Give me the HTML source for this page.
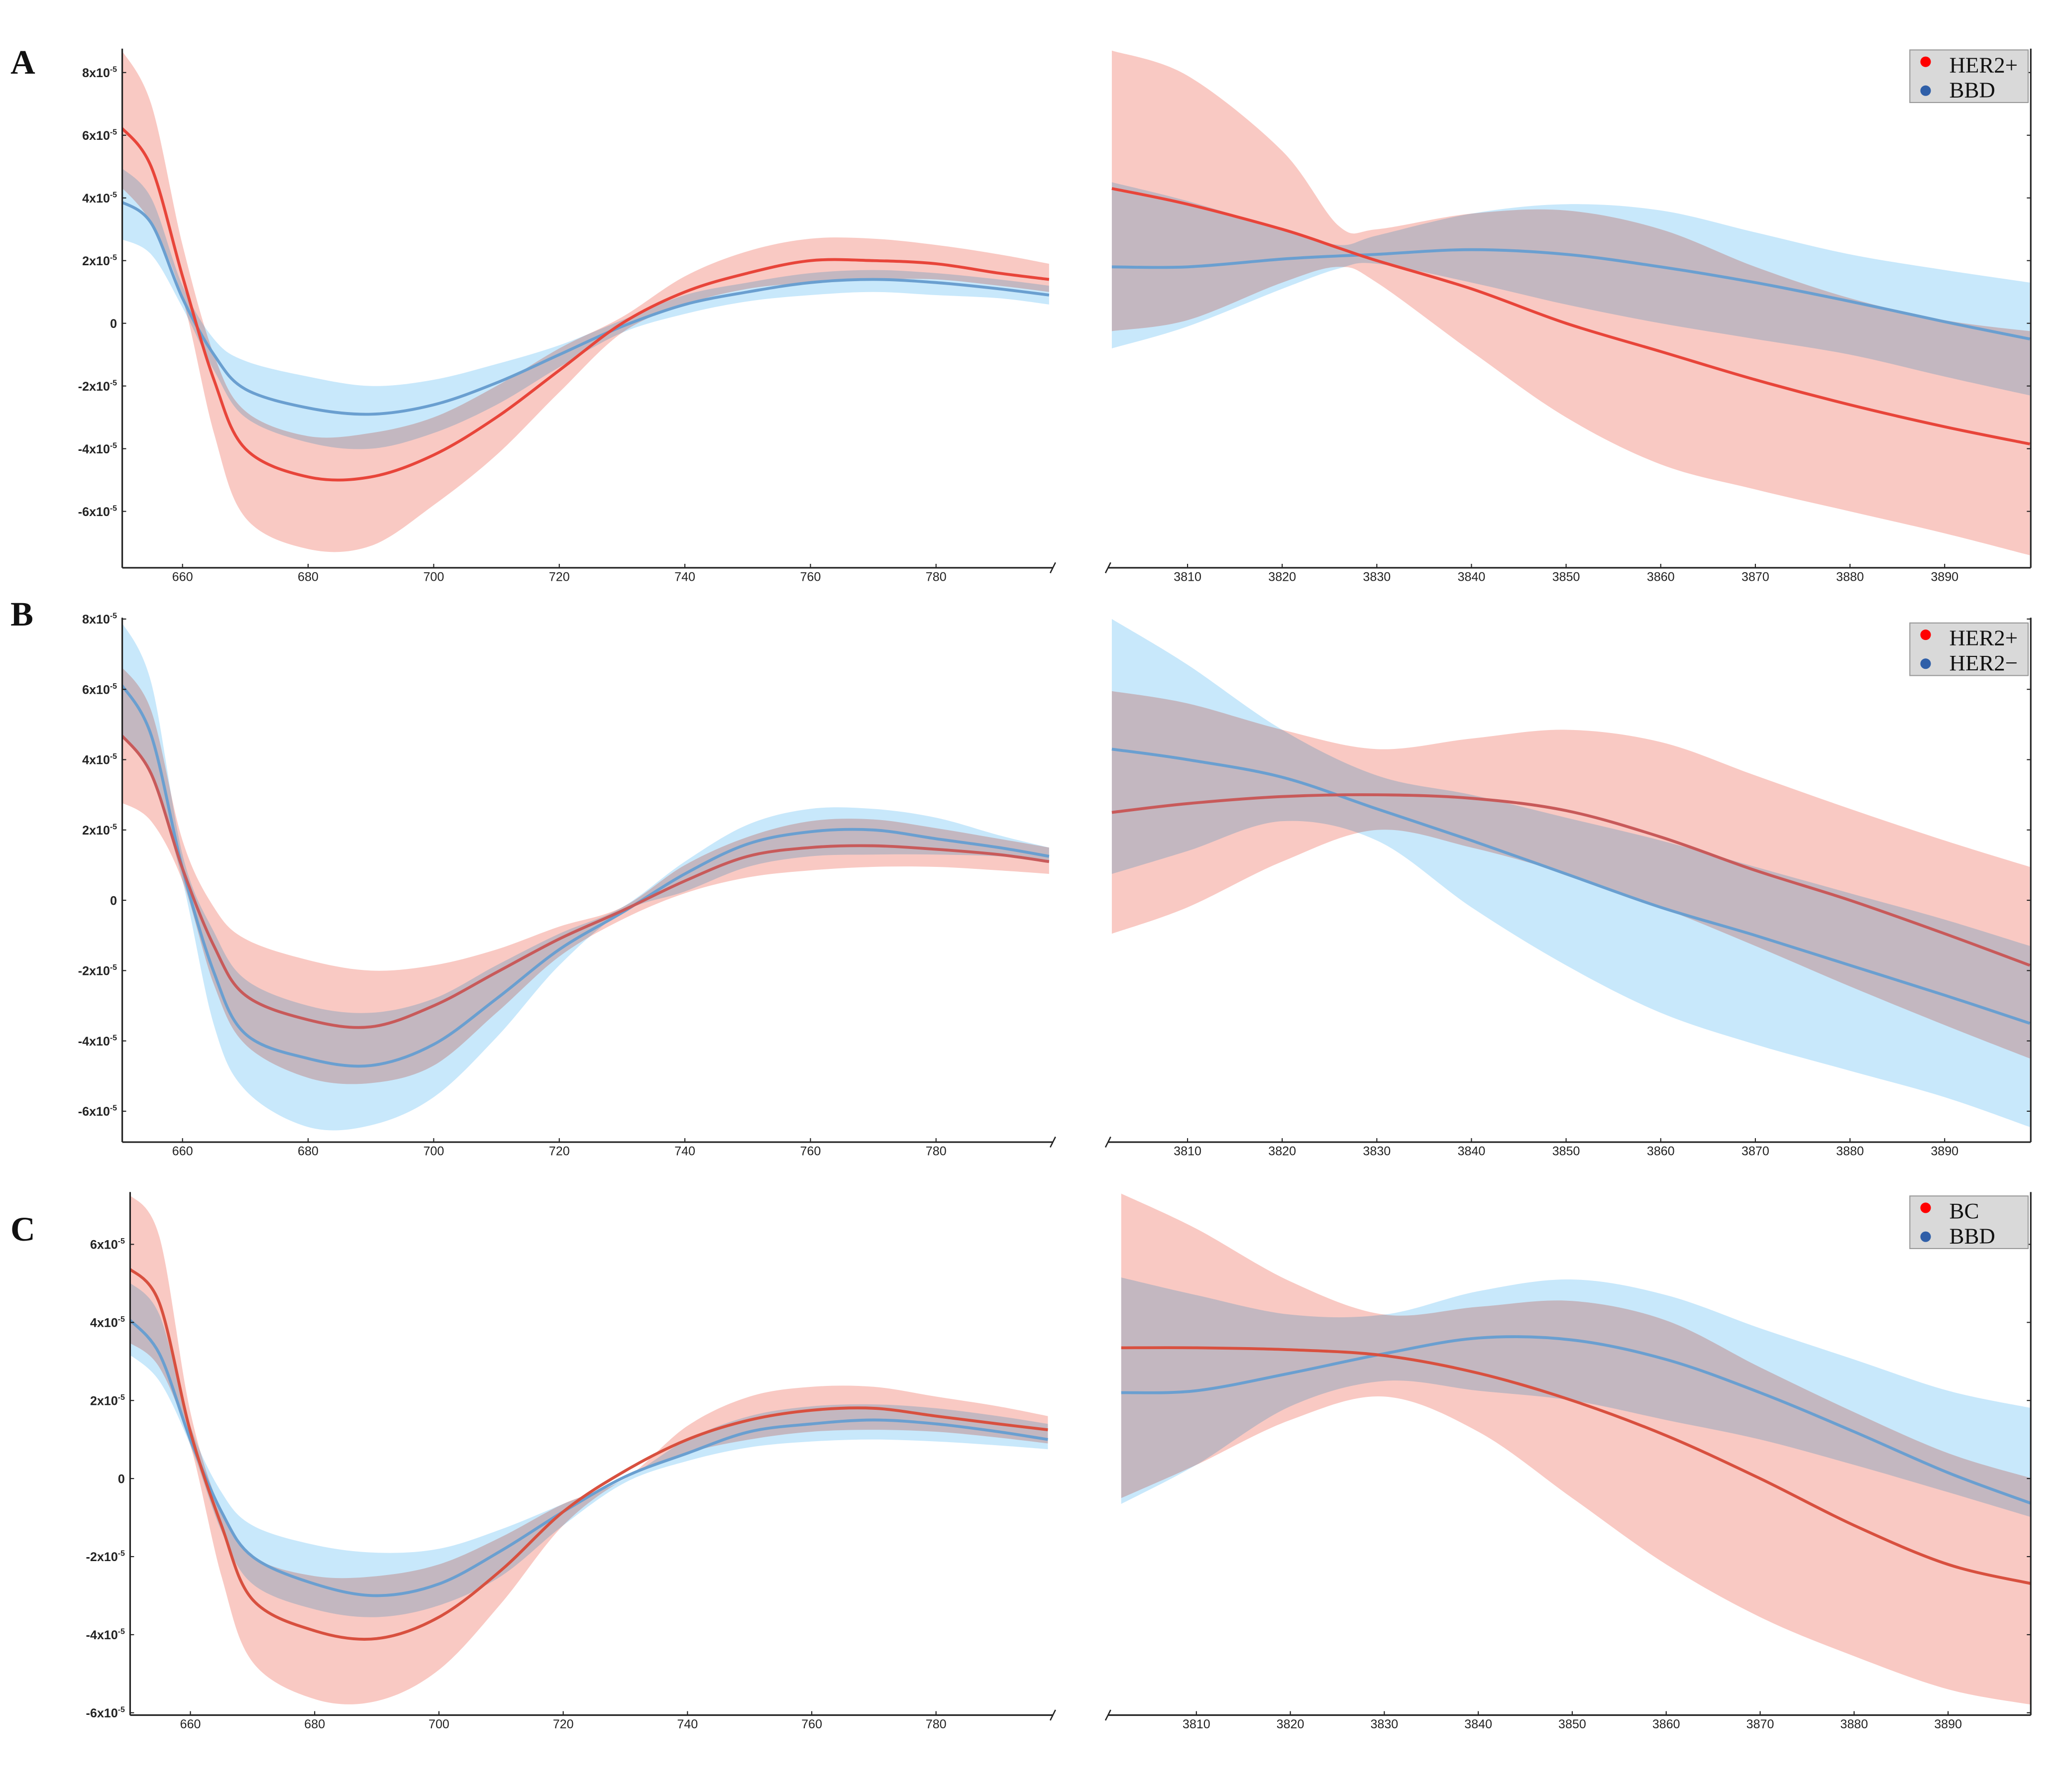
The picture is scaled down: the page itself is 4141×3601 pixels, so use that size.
<!DOCTYPE html>
<html><head><meta charset="utf-8"><style>
html,body{margin:0;padding:0;background:#fff;}
svg{display:block;}
</style></head><body>
<svg id="fig" width="4141" height="3601" viewBox="0 0 1568 1363.5" preserveAspectRatio="none" xmlns="http://www.w3.org/2000/svg" font-family="Liberation Sans, sans-serif">
<rect x="0" y="0" width="1568" height="1363.5" fill="#fff"/>
</svg>
<script>
// ---- data (units of 1e-5) ----
const leftX = [650,655,660,665,670,680,690,700,710,720,730,740,750,760,770,780,790,798];
const rightXA = [3802,3810,3820,3826,3830,3840,3850,3860,3870,3880,3890,3899];
const rightX = [3802,3810,3820,3830,3840,3850,3860,3870,3880,3890,3899];
const leftTicks = [660,680,700,720,740,760,780];
const rightTicks = [3810,3820,3830,3840,3850,3860,3870,3880,3890];
const yTicksAB = [-6,-4,-2,0,2,4,6,8];
const yTicksC = [-6,-4,-2,0,2,4,6];
const legendA = ["HER2+","BBD"];
const legendB = ["HER2+","HER2\u2212"];
const legendC = ["BC","BBD"];

// Panel A left
const A_L_redMean = [6.3,5.0,1.5,-1.8,-4.0,-4.9,-4.9,-4.2,-3.0,-1.5,0,1.0,1.6,2.0,2.0,1.9,1.6,1.4];
const A_L_redUp = [8.8,7.0,2.5,-1.0,-2.8,-3.6,-3.5,-3.0,-2.0,-0.8,0.2,1.5,2.3,2.7,2.7,2.5,2.2,1.9];
const A_L_redLo = [4.4,3.2,0.8,-3.5,-6.2,-7.2,-7.1,-5.8,-4.2,-2.2,-0.3,0.6,1.1,1.3,1.4,1.4,1.2,1.0];
const A_L_blueMean = [3.9,3.2,0.8,-1.0,-2.1,-2.7,-2.9,-2.6,-1.9,-1.0,-0.1,0.6,1.0,1.3,1.4,1.3,1.1,0.9];
const A_L_blueUp = [5.0,4.0,1.2,-0.5,-1.2,-1.7,-2.0,-1.8,-1.3,-0.7,0.1,0.9,1.3,1.6,1.7,1.6,1.4,1.2];
const A_L_blueLo = [2.7,2.2,0.5,-1.5,-3.0,-3.8,-4.0,-3.5,-2.6,-1.4,-0.3,0.3,0.7,0.9,1.0,0.9,0.8,0.6];
// Panel A right
const A_R_redMean = [4.3,3.8,3.0,2.4,2.0,1.1,0,-0.9,-1.8,-2.6,-3.3,-3.85];
const A_R_redUp = [8.7,7.9,5.5,3.1,3.0,3.5,3.6,3.0,1.8,0.8,0.1,-0.25];
const A_R_redLo = [-0.25,0.1,1.3,1.8,1.3,-0.9,-3.0,-4.5,-5.3,-6.0,-6.7,-7.4];
const A_R_blueMean = [1.8,1.8,2.05,2.15,2.2,2.35,2.2,1.8,1.3,0.7,0.05,-0.5];
const A_R_blueUp = [4.5,3.9,3.0,2.5,2.8,3.5,3.8,3.6,2.9,2.2,1.7,1.3];
const A_R_blueLo = [-0.8,-0.1,1.1,1.75,1.9,1.3,0.6,0,-0.5,-1.0,-1.7,-2.3];
// Panel B left
const B_L_redMean = [4.75,3.6,0.9,-1.3,-2.7,-3.4,-3.6,-3.0,-2.05,-1.1,-0.3,0.55,1.25,1.5,1.55,1.45,1.3,1.1];
const B_L_redUp = [6.7,5.4,1.7,-0.2,-1.1,-1.7,-2.0,-1.85,-1.4,-0.75,-0.2,1.0,1.8,2.25,2.3,2.05,1.75,1.5];
const B_L_redLo = [2.8,2.25,0.55,-2.4,-4.1,-5.05,-5.2,-4.7,-3.2,-1.6,-0.55,0.2,0.65,0.85,0.95,0.95,0.85,0.75];
const B_L_blueMean = [6.2,4.7,0.9,-2.05,-3.8,-4.5,-4.7,-4.1,-2.8,-1.4,-0.35,0.75,1.6,1.95,2.0,1.75,1.5,1.25];
const B_L_blueUp = [8.0,6.2,1.3,-0.9,-2.25,-3.0,-3.2,-2.8,-1.85,-0.95,-0.2,1.1,2.15,2.6,2.6,2.35,1.85,1.5];
const B_L_blueLo = [4.7,3.55,0.55,-3.55,-5.4,-6.45,-6.4,-5.6,-3.9,-1.85,-0.35,0.25,0.95,1.25,1.3,1.3,1.25,1.1];
// Panel B right
const B_R_redMean = [2.5,2.75,2.95,3.0,2.9,2.55,1.8,0.85,0,-0.95,-1.85];
const B_R_redUp = [5.95,5.6,4.85,4.3,4.6,4.85,4.5,3.55,2.6,1.7,0.95];
const B_R_redLo = [-0.95,-0.2,1.1,2.0,1.5,0.75,-0.2,-1.3,-2.45,-3.55,-4.5];
const B_R_blueMean = [4.3,4.0,3.5,2.6,1.7,0.75,-0.2,-1.0,-1.85,-2.7,-3.5];
const B_R_blueUp = [8.0,6.7,4.85,3.55,3.0,2.35,1.7,0.95,0.2,-0.55,-1.3];
const B_R_blueLo = [0.75,1.4,2.25,1.7,-0.2,-1.85,-3.2,-4.1,-4.85,-5.6,-6.45];
// Panel C left
const C_L_redMean = [5.4,4.5,1.2,-1.2,-3.1,-3.9,-4.1,-3.55,-2.35,-0.85,0.2,1.0,1.5,1.75,1.8,1.6,1.4,1.25];
const C_L_redUp = [7.3,6.2,1.7,-0.85,-2.0,-2.5,-2.5,-2.2,-1.5,-0.65,0,1.35,2.1,2.35,2.35,2.1,1.85,1.6];
const C_L_redLo = [3.5,2.85,0.85,-2.5,-4.7,-5.65,-5.7,-4.9,-3.2,-1.2,0,0.65,1.0,1.2,1.25,1.2,1.05,0.9];
const C_L_blueMean = [4.1,3.2,1.0,-0.85,-2.0,-2.7,-3.0,-2.7,-1.85,-0.85,0.05,0.65,1.2,1.4,1.5,1.4,1.2,1.0];
const C_L_blueUp = [5.05,4.2,1.35,-0.35,-1.2,-1.7,-1.9,-1.8,-1.3,-0.65,0,1.0,1.6,1.85,1.9,1.8,1.6,1.4];
const C_L_blueLo = [3.2,2.5,0.85,-1.35,-2.7,-3.35,-3.55,-3.25,-2.5,-1.2,-0.1,0.45,0.8,0.95,1.0,0.95,0.85,0.75];
// Panel C right
const C_R_redMean = [3.35,3.35,3.3,3.15,2.7,2.0,1.1,0,-1.2,-2.2,-2.7];
const C_R_redUp = [7.3,6.4,5.05,4.2,4.4,4.55,4.05,2.85,1.7,0.65,0];
const C_R_redLo = [-0.5,0.35,1.5,2.1,1.2,-0.5,-2.2,-3.55,-4.55,-5.4,-5.8];
const C_R_blueMean = [2.2,2.25,2.7,3.2,3.6,3.55,3.05,2.2,1.2,0.15,-0.65];
const C_R_blueUp = [5.15,4.7,4.2,4.2,4.8,5.1,4.7,3.85,3.05,2.25,1.8];
const C_R_blueLo = [-0.65,0.35,1.85,2.5,2.25,2.0,1.5,1.0,0.35,-0.35,-1.0];

// ---- rendering ----
const NS = "http://www.w3.org/2000/svg";
const svg = document.getElementById('fig');
function mk(tag, attrs, parent){ const e=document.createElementNS(NS,tag); for(const k in attrs) e.setAttribute(k,attrs[k]); (parent||svg).appendChild(e); return e; }
function segs(pts){
  let d = "";
  for(let i=0;i<pts.length-1;i++){
    const p0=pts[Math.max(0,i-1)], p1=pts[i], p2=pts[i+1], p3=pts[Math.min(pts.length-1,i+2)];
    const c1=[p1[0]+(p2[0]-p0[0])/6, p1[1]+(p2[1]-p0[1])/6];
    const c2=[p2[0]-(p3[0]-p1[0])/6, p2[1]-(p3[1]-p1[1])/6];
    d+=" C"+c1[0].toFixed(2)+","+c1[1].toFixed(2)+" "+c2[0].toFixed(2)+","+c2[1].toFixed(2)+" "+p2[0].toFixed(2)+","+p2[1].toFixed(2);
  }
  return d;
}
function smooth(pts){ return "M"+pts[0][0].toFixed(2)+","+pts[0][1].toFixed(2)+segs(pts); }

let clipId=0;
function drawSub(g, cfg, xs, series, redLine, blueLine){
  const xScale = v => cfg.x0 + (v-cfg.d0)/(cfg.d1-cfg.d0)*(cfg.x1-cfg.x0);
  const yScale = v => cfg.yz - v*cfg.ppu;
  const id = "clip"+(clipId++);
  const defs = mk('defs',{},g);
  const cp = mk('clipPath',{id:id},defs);
  mk('rect',{x:cfg.x0,y:cfg.top,width:cfg.x1-cfg.x0,height:cfg.bottom-cfg.top},cp);
  const plot = mk('g',{'clip-path':'url(#'+id+')'},g);
  
  
  const bands = [["red",series.redUp,series.redLo,"#f9c9c3"],["blue",series.blueUp,series.blueLo,"#c8e8fb"]];
  bands.forEach(b=>{
    const up = xs.map((x,i)=>[xScale(x),yScale(b[1][i])]);
    const lo = xs.map((x,i)=>[xScale(x),yScale(b[2][i])]).reverse();
    const d = smooth(up)+" L"+lo[0][0].toFixed(2)+","+lo[0][1].toFixed(2)+segs(lo)+" Z";
    const p = mk('path',{d:d,fill:b[3],style:"mix-blend-mode:multiply"},plot);
    
    
  });
  const lines = [["blue",series.blueMean,blueLine],["red",series.redMean,redLine]];
  lines.forEach(l=>{
    const pts = xs.map((x,i)=>[xScale(x),yScale(l[1][i])]);
    const p = mk('path',{d:smooth(pts),fill:"none",stroke:l[2],"stroke-width":2.2},plot);
    
    
  });
  const ax = mk('line',{x1:cfg.x0,y1:cfg.bottom,x2:cfg.x1,y2:cfg.bottom,stroke:"#222","stroke-width":1.2},g);
  
  
  cfg.ticks.forEach(t=>{
    const x=xScale(t);
    mk('line',{x1:x,y1:cfg.bottom,x2:x,y2:cfg.bottom-3,stroke:"#222","stroke-width":0.8},g);
    const tx = mk('text',{x:x,y:cfg.bottom+10,"font-size":9.5,"text-anchor":"middle",fill:"#222"},g);
    tx.textContent = t;
    
    
  });
  const bx = cfg.side==="left" ? cfg.x1 : cfg.x0;
  mk('line',{x1:bx-2,y1:cfg.bottom+4,x2:bx+2,y2:cfg.bottom-4,stroke:"#222","stroke-width":1},g);
  if(cfg.side==="left"){
    const ay = mk('line',{x1:cfg.x0,y1:cfg.top,x2:cfg.x0,y2:cfg.bottom,stroke:"#222","stroke-width":1.2},g);
    
    
    cfg.yticks.forEach(t=>{
      const y=yScale(t);
      mk('line',{x1:cfg.x0,y1:y,x2:cfg.x0+3,y2:y,stroke:"#222","stroke-width":0.8},g);
      const tx = mk('text',{x:cfg.x0-4,y:y+3.5,"font-size":9.5,"font-weight":"bold","text-anchor":"end",fill:"#222"},g);
      
      
      if(t===0){ tx.textContent="0"; }
      else {
        tx.appendChild(document.createTextNode(t+"x10"));
        const sp = mk('tspan',{"font-size":6,dy:-4},tx); sp.textContent="-5";
      }
    });
  } else {
    const ay = mk('line',{x1:cfg.x1,y1:cfg.top,x2:cfg.x1,y2:cfg.bottom,stroke:"#222","stroke-width":1.2},g);
    
    
    cfg.yticks.forEach(t=>{
      const y=yScale(t);
      mk('line',{x1:cfg.x1,y1:y,x2:cfg.x1-3,y2:y,stroke:"#222","stroke-width":0.8},g);
    });
  }
}

function legend(g, x, y, labels, name){
  const lg = mk('g',{},g);
  
  
  mk('rect',{x:x,y:y,width:90,height:40,fill:"#d9d9d9",stroke:"#999","stroke-width":0.8},lg);
  mk('circle',{cx:x+12,cy:y+9,r:4,fill:"#f00"},lg);
  mk('circle',{cx:x+12,cy:y+31,r:4,fill:"#2f5fa8"},lg);
  const t1 = mk('text',{x:x+30,y:y+17,"font-size":17,"font-family":"Liberation Serif, serif",fill:"#111"},lg); t1.textContent=labels[0];
  const t2 = mk('text',{x:x+30,y:y+36,"font-size":17,"font-family":"Liberation Serif, serif",fill:"#111"},lg); t2.textContent=labels[1];
}

const panels = [
  {id:"A", letterY:56, top:37, bottom:432, yz:246, ppu:23.85, lx0:93, lRight:801, ld0:650.4, ld1:798.6, rd0:3801.6, rd1:3899.1, yt:yTicksAB, leg:legendA, legY:38,
   L:{redMean:A_L_redMean,redUp:A_L_redUp,redLo:A_L_redLo,blueMean:A_L_blueMean,blueUp:A_L_blueUp,blueLo:A_L_blueLo},
   R:{redMean:A_R_redMean,redUp:A_R_redUp,redLo:A_R_redLo,blueMean:A_R_blueMean,blueUp:A_R_blueUp,blueLo:A_R_blueLo}, rx:rightXA, red:"#e8453a", blue:"#6a9fd0"},
  {id:"B", letterY:476, top:470, bottom:869, yz:685, ppu:26.75, lx0:93, lRight:801, ld0:650.4, ld1:798.6, rd0:3801.6, rd1:3899.1, yt:yTicksAB, leg:legendB, legY:474,
   L:{redMean:B_L_redMean,redUp:B_L_redUp,redLo:B_L_redLo,blueMean:B_L_blueMean,blueUp:B_L_blueUp,blueLo:B_L_blueLo},
   R:{redMean:B_R_redMean,redUp:B_R_redUp,redLo:B_R_redLo,blueMean:B_R_blueMean,blueUp:B_R_blueUp,blueLo:B_R_blueLo}, rx:rightX, red:"#c85a5a", blue:"#6a9fd0"},
  {id:"C", letterY:944, top:907, bottom:1305, yz:1125, ppu:29.7, lx0:99, lRight:801, ld0:650.3, ld1:798.8, rd0:3800.6, rd1:3898.8, yt:yTicksC, leg:legendC, legY:910,
   L:{redMean:C_L_redMean,redUp:C_L_redUp,redLo:C_L_redLo,blueMean:C_L_blueMean,blueUp:C_L_blueUp,blueLo:C_L_blueLo},
   R:{redMean:C_R_redMean,redUp:C_R_redUp,redLo:C_R_redLo,blueMean:C_R_blueMean,blueUp:C_R_blueUp,blueLo:C_R_blueLo}, rx:rightX, red:"#d8503f", blue:"#6a9fd0"}
];

panels.forEach(P=>{
  const g = mk('g',{});
  
  
  const lt = mk('text',{x:8,y:P.letterY,"font-size":26,"font-weight":"bold","font-family":"Liberation Serif, serif",fill:"#111"},g);
  lt.textContent = P.id;
  
  
  drawSub(g, {name:'panel-'+P.id.toLowerCase()+'-left', side:"left", x0:P.lx0, x1:P.lRight, d0:P.ld0, d1:P.ld1, top:P.top, bottom:P.bottom, yz:P.yz, ppu:P.ppu, ticks:leftTicks, yticks:P.yt}, leftX, P.L, P.red, P.blue);
  drawSub(g, {name:'panel-'+P.id.toLowerCase()+'-right', side:"right", x0:843, x1:1545, d0:P.rd0, d1:P.rd1, top:P.top, bottom:P.bottom, yz:P.yz, ppu:P.ppu, ticks:rightTicks, yticks:P.yt}, P.rx, P.R, P.red, P.blue);
  legend(g, 1453, P.legY, P.leg, 'legend-'+P.id.toLowerCase());
});
</script>
</body></html>
